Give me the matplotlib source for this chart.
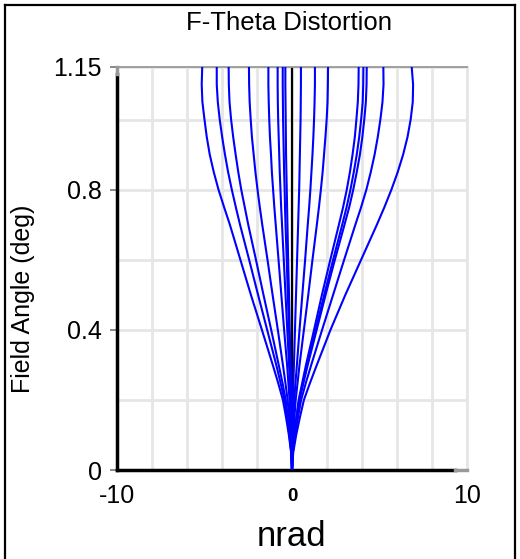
import matplotlib
matplotlib.use("Agg")
import matplotlib.pyplot as plt
from matplotlib.lines import Line2D
from matplotlib.transforms import ScaledTranslation

plt.rcParams['font.family'] = ['Liberation Sans', 'DejaVu Sans']

# Field angle samples (deg)
field_angle = [0, 0.05, 0.1, 0.15, 0.2, 0.25, 0.3, 0.4, 0.5, 0.6, 0.7, 0.75, 0.8, 0.85, 0.9, 0.95, 1.0, 1.05, 1.1, 1.15]

# Distortion (nrad) for each traced curve
curve_01 = [0, -0.05, -0.18, -0.34, -0.52, -0.80, -1.10, -1.72, -2.35, -2.95, -3.55, -3.88, -4.20, -4.47, -4.70, -4.87, -5.00, -5.12, -5.16, -5.13]
curve_02 = [0, -0.04, -0.15, -0.28, -0.43, -0.66, -0.90, -1.42, -1.94, -2.45, -2.97, -3.21, -3.44, -3.65, -3.83, -3.99, -4.13, -4.24, -4.30, -4.30]
curve_03 = [0, -0.04, -0.13, -0.24, -0.36, -0.55, -0.76, -1.19, -1.63, -2.06, -2.50, -2.70, -2.90, -3.07, -3.22, -3.36, -3.48, -3.57, -3.61, -3.62]
curve_04 = [0, -0.02, -0.09, -0.16, -0.25, -0.38, -0.52, -0.81, -1.11, -1.40, -1.70, -1.84, -1.97, -2.09, -2.19, -2.29, -2.36, -2.42, -2.45, -2.46]
curve_05 = [0, -0.01, -0.05, -0.09, -0.14, -0.21, -0.28, -0.45, -0.61, -0.77, -0.93, -1.01, -1.08, -1.15, -1.20, -1.26, -1.30, -1.33, -1.35, -1.35]
curve_06 = [0, -0.01, -0.03, -0.05, -0.08, -0.12, -0.17, -0.27, -0.37, -0.47, -0.57, -0.62, -0.66, -0.70, -0.73, -0.76, -0.79, -0.81, -0.82, -0.82]
curve_07 = [0, -0.01, -0.02, -0.03, -0.05, -0.08, -0.11, -0.17, -0.24, -0.30, -0.37, -0.40, -0.42, -0.45, -0.47, -0.49, -0.51, -0.52, -0.53, -0.53]
curve_08 = [0, 0.00, -0.01, -0.02, -0.04, -0.06, -0.08, -0.13, -0.17, -0.22, -0.26, -0.28, -0.30, -0.32, -0.34, -0.35, -0.36, -0.37, -0.38, -0.38]
curve_09 = [0, 0.01, 0.02, 0.03, 0.05, 0.08, 0.11, 0.17, 0.23, 0.29, 0.35, 0.38, 0.41, 0.43, 0.45, 0.47, 0.49, 0.50, 0.51, 0.51]
curve_10 = [0, 0.01, 0.05, 0.09, 0.13, 0.20, 0.28, 0.43, 0.59, 0.75, 0.90, 0.98, 1.05, 1.11, 1.17, 1.22, 1.26, 1.29, 1.31, 1.31]
curve_11 = [0, 0.02, 0.07, 0.14, 0.21, 0.32, 0.43, 0.68, 0.93, 1.17, 1.42, 1.54, 1.65, 1.75, 1.83, 1.91, 1.98, 2.03, 2.05, 2.06]
curve_12 = [0, 0.04, 0.13, 0.25, 0.38, 0.59, 0.80, 1.26, 1.71, 2.19, 2.68, 2.92, 3.13, 3.31, 3.46, 3.59, 3.68, 3.76, 3.80, 3.81]
curve_13 = [0, 0.04, 0.14, 0.27, 0.41, 0.63, 0.86, 1.35, 1.84, 2.35, 2.87, 3.12, 3.34, 3.53, 3.70, 3.84, 3.95, 4.04, 4.07, 4.08]
curve_14 = [0, 0.04, 0.15, 0.28, 0.43, 0.66, 0.90, 1.41, 1.92, 2.45, 3.00, 3.27, 3.50, 3.70, 3.88, 4.02, 4.13, 4.22, 4.26, 4.27]
curve_15 = [0, 0.05, 0.18, 0.34, 0.52, 0.80, 1.10, 1.72, 2.35, 2.98, 3.62, 3.95, 4.25, 4.50, 4.72, 4.90, 5.05, 5.17, 5.23, 5.22]
curve_16 = [0, 0.07, 0.24, 0.45, 0.68, 1.04, 1.42, 2.20, 3.05, 3.95, 4.85, 5.28, 5.68, 6.04, 6.35, 6.60, 6.78, 6.90, 6.92, 6.84]

curves = [curve_01, curve_02, curve_03, curve_04, curve_05, curve_06, curve_07, curve_08,
          curve_09, curve_10, curve_11, curve_12, curve_13, curve_14, curve_15, curve_16]

x_major = [-10, 0, 10]
x_major_labels = ['-10', '0', '10']
x_minor = [-8, -6, -4, -2, 2, 4, 6, 8]
y_major = [0, 0.4, 0.8, 1.15]
y_major_labels = ['0', '0.4', '0.8', '1.15']
y_minor = [0.2, 0.6, 1.0]

W, H = 520, 559
fig = plt.figure(figsize=(W / 100, H / 100), dpi=100)
ax = fig.add_axes([117 / W, 1 - 470 / H, 350 / W, 403 / H])

ax.set_xlim(-10, 10)
ax.set_ylim(0, 1.15)

ax.set_xticks(x_major)
ax.set_xticklabels(x_major_labels)
ax.set_xticks(x_minor, minor=True)
ax.set_yticks(y_major)
ax.set_yticklabels(y_major_labels)
ax.set_yticks(y_minor, minor=True)

ax.grid(True, which='both', color='#e6e6e6', linewidth=2.0, zorder=0)
ax.set_axisbelow(True)

# zero reference line
ax.plot([0, 0], [0, 1.15], color='black', linewidth=1.6, zorder=2)

for c in curves:
    ax.plot(c, field_angle, color='#0000ff', linewidth=1.5, zorder=3)

for side in ['left', 'bottom']:
    ax.spines[side].set_color('black')
    ax.spines[side].set_linewidth(2.5)
ax.spines['left'].set_bounds(0, 1.13)
ax.spines['bottom'].set_bounds(-10, 9.3)
ax.plot([-10, -10], [1.13, 1.15], color='#999999', linewidth=2.5, clip_on=False, zorder=4)
ax.plot([9.3, 10], [0, 0], color='#999999', linewidth=2.5, clip_on=False, zorder=4)
ax.spines['top'].set_color('#999999')
ax.spines['top'].set_linewidth(1.3)
ax.spines['right'].set_color('#e6e6e6')
ax.spines['right'].set_linewidth(2.0)

ax.tick_params(axis='y', which='major', length=5, width=1.2, color='#777777',
               labelsize=18, pad=6)
ax.tick_params(axis='y', which='minor', length=0)
ax.tick_params(axis='x', which='both', length=0, labelsize=18, pad=10)

for lab in ax.get_xticklabels():
    if lab.get_text() == '0':
        lab.set_fontsize(13.5)
        lab.set_fontweight('bold')
        lab.set_transform(lab.get_transform() + ScaledTranslation(0, -3 / 72, fig.dpi_scale_trans))

ax.set_xlabel('nrad', fontsize=25, labelpad=9)
fig.text(23 / W, 1 - 299 / H, 'Field Angle (deg)', fontsize=18, rotation=90,
         ha='center', va='center')
fig.text(289 / W, 1 - 23 / H, 'F-Theta Distortion', fontsize=18.5,
         ha='center', va='center')

# figure frame
for xs, ys in [([5 / W, 5 / W], [0, 1 - 5 / H]),
               ([5 / W, 515 / W], [1 - 5 / H, 1 - 5 / H]),
               ([515 / W, 515 / W], [1 - 5 / H, 0])]:
    fig.add_artist(Line2D(xs, ys, color='black', linewidth=1.6, transform=fig.transFigure))

fig.savefig('out.png', dpi=100)
